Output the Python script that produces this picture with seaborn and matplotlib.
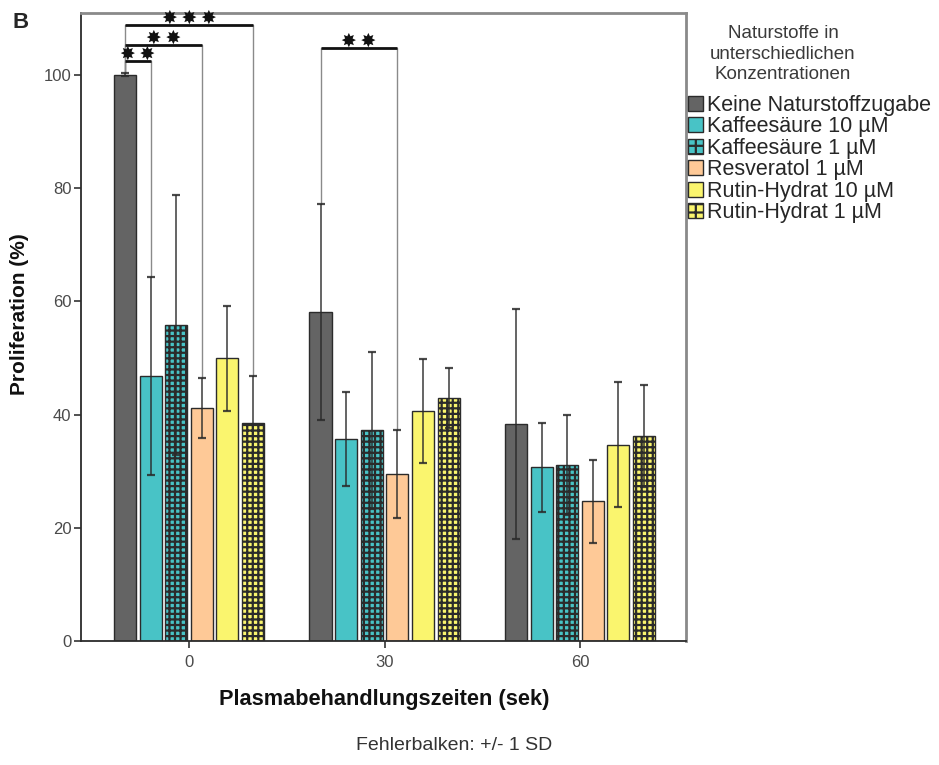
import matplotlib
matplotlib.use("Agg")
import matplotlib.pyplot as plt
from matplotlib.patches import Patch, Rectangle
import pandas as pd
import seaborn as sns

# Plasma treatment times (s) and natural-compound groups
times = ["0", "30", "60"]
substances = [
    "Keine Naturstoffzugabe",
    "Kaffeesäure 10 µM",
    "Kaffeesäure 1 µM",
    "Resveratol 1 µM",
    "Rutin-Hydrat 10 µM",
    "Rutin-Hydrat 1 µM",
]

# Mean proliferation (%) per group at 0 / 30 / 60 s
mean_keine = [100.0, 58.1, 38.3]
mean_kaffee10 = [46.8, 35.7, 30.7]
mean_kaffee1 = [55.8, 37.2, 31.1]
mean_resveratol1 = [41.2, 29.5, 24.7]
mean_rutin10 = [49.9, 40.6, 34.7]
mean_rutin1 = [38.6, 43.0, 36.2]

# Standard deviations (error bars: +/- 1 SD)
sd_keine = [0.3, 19.1, 20.3]
sd_kaffee10 = [17.5, 8.3, 7.9]
sd_kaffee1 = [22.9, 13.9, 8.9]
sd_resveratol1 = [5.3, 7.7, 7.3]
sd_rutin10 = [9.2, 9.2, 11.0]
sd_rutin1 = [8.2, 5.3, 9.0]

means = [mean_keine, mean_kaffee10, mean_kaffee1, mean_resveratol1, mean_rutin10, mean_rutin1]
sds = [sd_keine, sd_kaffee10, sd_kaffee1, sd_resveratol1, sd_rutin10, sd_rutin1]

colors = ["#646464", "#48C3C6", "#48C3C6", "#FEC997", "#FAF56E", "#FAF56E"]
hatches = ["", "", "+++", "", "", "+++"]
legend_hatches = ["", "", "++", "", "", "++"]

# Significance brackets: (time index, first bar, second bar, height, stars)
brackets = [
    (0, 0, 1, 102.3, "✸\u2009✸"),
    (0, 0, 3, 105.2, "✸\u2009✸"),
    (0, 0, 5, 108.7, "✸\u2009✸\u2009✸"),
    (1, 0, 3, 104.6, "✸\u2009✸"),
]

df = pd.DataFrame(
    [
        {"Zeit": t, "Naturstoff": s, "Proliferation": m[j]}
        for s, m in zip(substances, means)
        for j, t in enumerate(times)
    ]
)

sns.set_style("white")
plt.rcParams["font.family"] = ["Liberation Sans", "DejaVu Sans"]
plt.rcParams["hatch.linewidth"] = 1.6

fig = plt.figure(figsize=(9.39, 7.65), dpi=100)
ax = fig.add_axes([81.3 / 939, 1 - 641.3 / 765, (686 - 81.3) / 939, (641.3 - 13.3) / 765])

sns.barplot(
    data=df, x="Zeit", y="Proliferation", hue="Naturstoff",
    order=times, hue_order=substances, palette=colors,
    width=0.786, gap=0.14, errorbar=None,
    edgecolor="#2b2b2b", linewidth=1.0, saturation=1, legend=False, ax=ax,
)

# Bars sorted left to right: within each time group they follow the hue order
bars = sorted([p for p in ax.patches if isinstance(p, Rectangle)], key=lambda p: p.get_x())
n_sub = len(substances)
centers = [[0.0] * len(times) for _ in substances]
for idx, bar in enumerate(bars):
    g, k = divmod(idx, n_sub)
    bar.set_hatch(hatches[k])
    centers[k][g] = bar.get_x() + bar.get_width() / 2

for k in range(n_sub):
    ax.errorbar(centers[k], means[k], yerr=sds[k], fmt="none", ecolor="#2a2a2a",
                elinewidth=1.2, capsize=2.6, capthick=1.6, alpha=0.85, zorder=4)

# Significance brackets with thin drop lines to the error-bar tops
for g, a, b, h, stars in brackets:
    xa, xb = centers[a][g], centers[b][g]
    ya = means[a][g] + sds[a][g]
    yb = means[b][g] + sds[b][g]
    ax.plot([xa, xa], [ya, h], color="#8a8a8a", lw=1.0, zorder=3)
    ax.plot([xb, xb], [yb, h], color="#8a8a8a", lw=1.0, zorder=3)
    ax.plot([xa, xb], [h, h], color="#111111", lw=2.0, solid_capstyle="butt", zorder=5)
    ax.text((xa + xb) / 2, h + 1.05, stars, ha="center", va="center",
            fontsize=13.5, color="#111111", zorder=5)

ax.set_xlim(-0.551, 2.542)
ax.set_ylim(0, 110.8)
ax.set_yticks([0, 20, 40, 60, 80, 100])
ax.set_xlabel("")
ax.set_ylabel("")
ax.tick_params(axis="both", which="both", length=5, width=1.2, color="#333333",
               labelcolor="#4a4a4a", labelsize=12, direction="out")
ax.tick_params(axis="x", pad=5)
ax.tick_params(axis="y", pad=2)
ax.tick_params(left=True, bottom=True)

for side in ["left", "bottom"]:
    ax.spines[side].set_color("#2b2b2b")
    ax.spines[side].set_linewidth(1.3)
for side in ["top", "right"]:
    ax.spines[side].set_color("#8a8a8a")
    ax.spines[side].set_linewidth(2.0)

# Legend
handles = [
    Patch(facecolor=c, edgecolor="#2b2b2b", hatch=h, linewidth=1.0, label=s)
    for c, h, s in zip(colors, legend_hatches, substances)
]
fig.legend(
    handles=handles, loc="upper left", bbox_to_anchor=(688 / 939, 1 - 95 / 765),
    frameon=False, fontsize=15.5, handlelength=0.68, handleheight=0.68,
    handletextpad=0.22, labelspacing=0.02, borderaxespad=0, borderpad=0,
)
fig.text(783 / 939, 1 - 25 / 765, "Naturstoffe in\nunterschiedlichen\nKonzentrationen",
         ha="center", va="top", fontsize=13.5, color="#3a3a3a", linespacing=1.28,
         multialignment="center")

fig.text(12 / 939, 1 - 22 / 765, "B", fontsize=16, fontweight="bold", va="center")
fig.text(20 / 939, 1 - 314 / 765, "Proliferation (%)", rotation=90, fontsize=15,
         fontweight="bold", ha="center", va="center", color="#111111")
fig.text(384 / 939, 1 - 700 / 765, "Plasmabehandlungszeiten (sek)", fontsize=15.7,
         fontweight="bold", ha="center", va="center", color="#111111")
fig.text(454 / 939, 1 - 746 / 765, "Fehlerbalken: +/- 1 SD", fontsize=14,
         ha="center", va="center", color="#333333")

fig.savefig("out.png", dpi=100)
